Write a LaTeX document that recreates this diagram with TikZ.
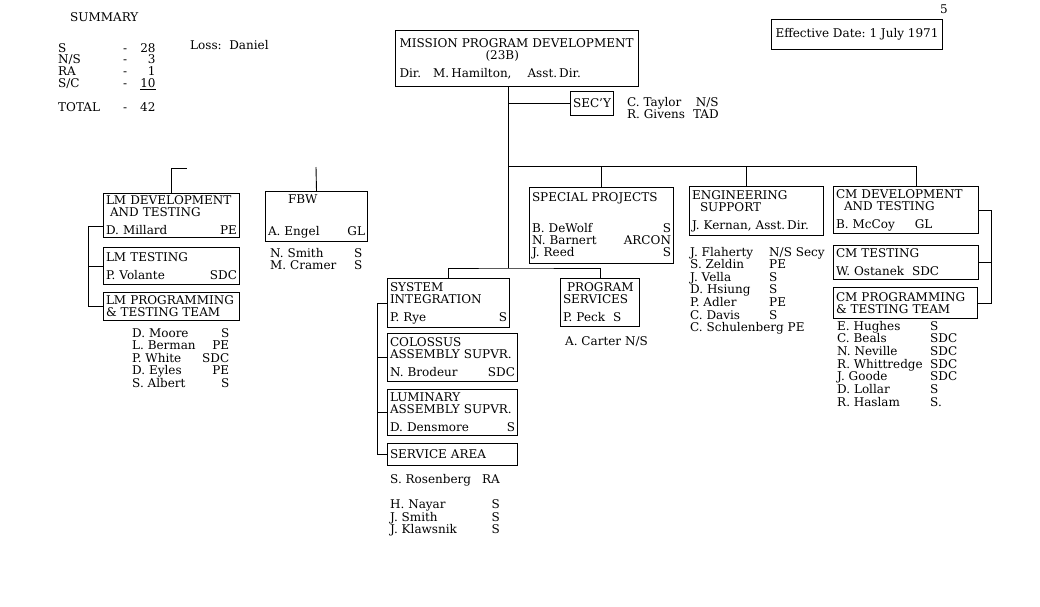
\documentclass[tikz,border=0pt]{standalone}
\usepackage{fontspec}
\setmainfont{DejaVu Serif}
\begin{document}
\begin{tikzpicture}[x=1pt,y=-1pt]
\tikzset{boite/.style={draw, line width=1pt, anchor=north west, align=left, inner xsep=2.5pt, inner ysep=1pt, font=\fontsize{12}{12}\selectfont}}
\tikzset{liste/.style={anchor=base west, inner sep=0pt, font=\fontsize{12}{12}\selectfont}}
\useasboundingbox (0,0) rectangle (1040,606);
% en-tete
\node[liste] (summary) at (70,21) {SUMMARY};
\node[liste, font=\fontsize{12}{9.8}\selectfont] (bilan) at (58,52) {\begin{tabular}[t]{@{}p{65pt}@{}l@{\hspace{13pt}}r@{}}
S & - & 28\\ N/S & - & 3\\ RA & - & 1\\ S/C & - & \underline{10}\\[12pt] TOTAL & - & 42\end{tabular}};
\node[liste] (perte) at (190,49) {Loss:\ \ Daniel};
\node[liste] (page) at (940,13) {5};
\node[boite, minimum width=171pt, minimum height=30pt] (date) at (771,19) {Effective Date:\ 1~July\ 1971};
\node[boite, text width=235pt, inner xsep=4pt, minimum height=56pt] (mpd) at (395,30) {MISSION~PROGRAM~DEVELOPMENT\\ \hspace*{86pt}(23B)\\[6pt] Dir.\ \ \ M.\,Hamilton,\ \ \ \ Asst.\,Dir.};
\node[boite, minimum width=43pt, minimum height=24pt, inner xsep=2pt] (secy) at (570,91) {SEC'Y};
\node[liste] (secnoms) at (627,106) {\begin{tabular}[t]{@{}l@{\hspace{8pt}}r@{}}C. Taylor & N/S\\ R. Givens & TAD\end{tabular}};
% LM
\node[boite, text width=131pt, minimum height=44pt] (lmdev) at (103,193) {LM~DEVELOPMENT\\ \ AND TESTING\\[6pt] D. Millard\hfill PE};
\node[boite, text width=131pt, minimum height=37pt] (lmtest) at (103,247) {LM TESTING\\[6pt] P. Volante\hfill SDC};
\node[boite, text width=131pt, minimum height=28pt] (lmprog) at (103,292) {LM~PROGRAMMING\\ \&~TESTING~TEAM};
\node[liste] (lmnoms) at (132,337) {\begin{tabular}[t]{@{}p{70pt}@{}r@{}}
D. Moore & S\\ L. Berman & PE\\ P. White & SDC\\ D. Eyles & PE\\ S. Albert & S\end{tabular}};
\node[boite, text width=97pt, minimum height=50pt] (fbw) at (265,191) {\hspace*{20pt}FBW\\[20pt] A. Engel\hfill GL};
\node[liste] (fbwnoms) at (270,257) {\begin{tabular}[t]{@{}p{84pt}@{}r@{}}N. Smith & S\\ M. Cramer & S\end{tabular}};
% centre
\node[boite, text width=139pt, minimum height=76pt] (spec) at (529,187) {SPECIAL~PROJECTS\\[19pt] B. DeWolf\hfill S\hspace*{20pt}\\ N. Barnert\hfill ARCON\hspace*{15pt}\\ J. Reed\hfill S\hspace*{20pt}};
\node[boite, text width=117pt, minimum height=49pt] (sysint) at (387,278) {SYSTEM\\ INTEGRATION\\[6pt] P. Rye\hfill S};
\node[boite, text width=125pt, minimum height=48pt] (colossus) at (387,333) {COLOSSUS\\ ASSEMBLY~SUPVR.\\[6pt] N. Brodeur\hfill SDC};
\node[boite, text width=125pt, minimum height=46pt] (luminary) at (387,389) {LUMINARY\\ ASSEMBLY~SUPVR.\\[6pt] D. Densmore\hfill S};
\node[boite, text width=125pt, minimum height=22pt] (service) at (387,443) {SERVICE AREA};
\node[liste] (servnoms) at (390,483) {\begin{tabular}[t]{@{}p{92pt}@{}r@{}}
S. Rosenberg & RA\\[13pt] H. Nayar & S\\ J. Smith & S\\ J. Klawsnik & S\end{tabular}};
\node[boite, text width=74pt, minimum height=48pt] (progserv) at (560,278) {\ PROGRAM\\ SERVICES\\[6pt] P. Peck\ \ S};
\node[liste] (carter) at (565,345) {A. Carter N/S};
% droite
\node[boite, text width=129pt, minimum height=49pt] (eng) at (689,186) {ENGINEERING\\ \ \ SUPPORT\\[6pt] J.~Kernan,~Asst.\,Dir.};
\node[liste] (engnoms) at (690,256) {\begin{tabular}[t]{@{}p{79pt}@{}l@{}}
J. Flaherty & N/S Secy\\ S. Zeldin & PE\\ J. Vella & S\\ D. Hsiung & S\\ P. Adler & PE\\ C. Davis & S\\ \multicolumn{2}{@{}l@{}}{C. Schulenberg PE}\end{tabular}};
\node[boite, text width=140pt, minimum height=47pt] (cmdev) at (833,186) {CM~DEVELOPMENT\\ \ \ AND TESTING\\[6pt] B. McCoy\hspace*{20pt}GL};
\node[boite, text width=140pt, minimum height=34pt] (cmtest) at (833,245) {CM TESTING\\[6pt] W. Ostanek\ \ SDC};
\node[boite, text width=139pt, minimum height=31pt] (cmprog) at (833,287) {CM~PROGRAMMING\\ \&~TESTING~TEAM};
\node[liste] (cmnoms) at (837,330) {\begin{tabular}[t]{@{}p{93pt}@{}l@{}}
E. Hughes & S\\ C. Beals & SDC\\ N. Neville & SDC\\ R. Whittredge & SDC\\ J. Goode & SDC\\ D. Lollar & S\\ R. Haslam & S.\end{tabular}};
% liaisons
\begin{scope}[line width=0.9pt]
\coordinate (bas) at (508,268);
\coordinate (bus) at (508,166);
\draw (mpd.south -| bas) -- (bas);
\draw (secy.west) -- (secy.west -| bas);
\draw (bus) -| ([xshift=10pt]cmdev.north);
\draw (spec.north) |- (bus);
\draw ([xshift=-10pt]eng.north) |- (bus);
\draw (sysint.north) |- (bas) -| (progserv.north);
\coordinate (sigauche) at ([xshift=-10pt]sysint.west);
\draw (sysint.west) -- (sigauche) |- (service.west);
\draw (sigauche |- colossus.west) -- (colossus.west);
\draw (sigauche |- luminary.west) -- (luminary.west);
\coordinate (lmgauche) at ([xshift=-15pt,yshift=-11pt]lmdev.west);
\draw ([yshift=-11pt]lmdev.west) -- (lmgauche) |- (lmprog.west);
\draw (lmgauche |- lmtest.west) -- (lmtest.west);
\coordinate (lmhaut) at (187,168);
\draw (lmdev.north) |- (lmhaut);
\coordinate (fbwhaut) at (316,167);
\draw (fbw.north) -- (fbwhaut);
\coordinate (cmdroite) at ([xshift=12pt]cmdev.east);
\draw (cmdev.east) -- (cmdroite) |- (cmprog.east);
\draw (cmdroite |- cmtest.east) -- (cmtest.east);
\end{scope}
\end{tikzpicture}
\end{document}
